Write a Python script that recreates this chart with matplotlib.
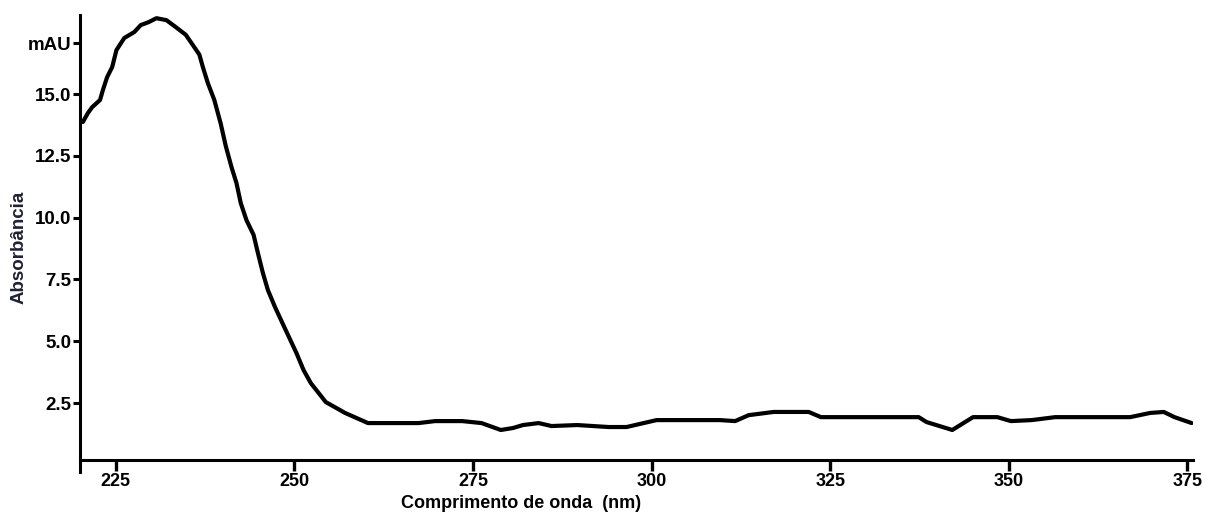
"""
Espectro de absorção UV (Absorbância x Comprimento de onda).
"""
import matplotlib.pyplot as plt
import numpy as np

wavelength = [220.4, 221.1, 221.7, 222.8, 223.2, 223.8, 224.5, 225.1, 226.2, 227.6,
              228.5, 229.6, 230.7, 232.1, 233.4, 234.8, 235.8, 236.7, 237.2, 237.9,
              238.8, 239.7, 240.4, 241.2, 241.9, 242.5, 243.3, 244.3, 244.9, 245.6,
              246.3, 247.3, 248.6, 250.3, 251.3, 252.3, 254.4, 257.1, 260.3, 263.0,
              267.4, 269.7, 273.5, 276.2, 278.9, 280.6, 282.0, 284.2, 286.0, 289.6,
              294.0, 296.5, 300.7, 309.6, 311.7, 313.6, 317.1, 322.0, 323.7, 333.1,
              337.4, 338.5, 342.1, 345.0, 348.4, 350.3, 353.2, 356.5, 367.0, 369.8,
              371.7, 373.2, 375.6]
absorbance = [13.87, 14.23, 14.47, 14.76, 15.16, 15.69, 16.09, 16.78, 17.27, 17.51,
              17.79, 17.91, 18.07, 17.99, 17.71, 17.40, 16.98, 16.60, 16.09, 15.44,
              14.76, 13.80, 12.90, 12.05, 11.40, 10.59, 9.90, 9.30, 8.57, 7.76,
              7.07, 6.38, 5.57, 4.52, 3.83, 3.31, 2.54, 2.10, 1.69, 1.69,
              1.69, 1.77, 1.77, 1.69, 1.41, 1.49, 1.61, 1.69, 1.57, 1.61,
              1.53, 1.53, 1.81, 1.81, 1.77, 2.01, 2.14, 2.14, 1.93, 1.93,
              1.93, 1.73, 1.41, 1.93, 1.93, 1.77, 1.81, 1.93, 1.93, 2.10,
              2.14, 1.93, 1.69]

x_ticks = [225, 250, 275, 300, 325, 350, 375]
y_ticks = [2.5, 5.0, 7.5, 10.0, 12.5, 15.0, 17.06]
y_tick_labels = ['2.5', '5.0', '7.5', '10.0', '12.5', '15.0', 'mAU']

plt.rcParams['font.family'] = ['Liberation Sans', 'DejaVu Sans']
plt.rcParams['font.weight'] = 'bold'

fig = plt.figure(figsize=(12.05, 5.13), dpi=100)
ax = fig.add_axes([0.0664, 0.0799, 0.9237, 0.8909])

ax.plot(np.array(wavelength), np.array(absorbance), color='black', lw=3.0,
        solid_joinstyle='round', solid_capstyle='round')

ax.set_xlim(220.0, 375.8)
ax.set_ylim(-0.29, 18.2)

# eixos: apenas esquerdo e inferior
ax.spines['top'].set_visible(False)
ax.spines['right'].set_visible(False)
ax.spines['left'].set_linewidth(2.2)
ax.spines['bottom'].set_linewidth(2.2)
ax.spines['bottom'].set_position(('data', 0.19))

ax.set_xticks(x_ticks)
ax.set_xticklabels([str(t) for t in x_ticks], fontsize=13, fontweight='bold')
ax.set_yticks(y_ticks)
ax.set_yticklabels(y_tick_labels, fontsize=13.5, fontweight='bold')
ax.tick_params(axis='x', direction='out', length=8, width=2.4, pad=1)
ax.tick_params(axis='y', direction='out', length=5, width=2.2, pad=1)

ax.set_xlabel('Comprimento de onda  (nm)', fontsize=13, fontweight='bold')
ax.xaxis.set_label_coords(0.396, -0.05)
ax.set_ylabel('Absorbância', fontsize=13.5, fontweight='bold', color='#1f2233')
ax.yaxis.set_label_coords(-0.047, 0.492)

fig.savefig('out.png', dpi=100, facecolor='white')
